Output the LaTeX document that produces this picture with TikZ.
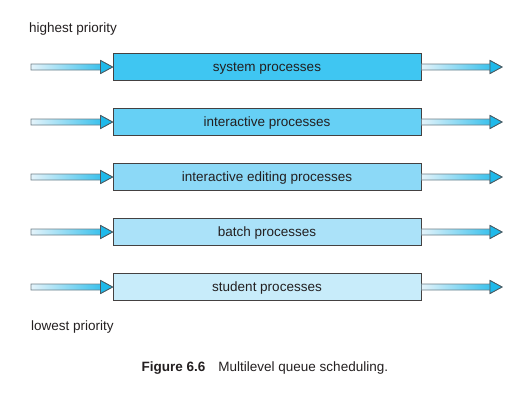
\documentclass[tikz,border=0pt]{standalone}
\usepackage{fontspec}
\setmainfont{Liberation Sans}
\usetikzlibrary{calc}
\definecolor{txt}{HTML}{231F20}
\definecolor{qa}{HTML}{3FC6F2}
\definecolor{qb}{HTML}{66D0F5}
\definecolor{qc}{HTML}{8CD9F7}
\definecolor{qd}{HTML}{ABE2F9}
\definecolor{qe}{HTML}{C8ECFA}
\definecolor{shaftL}{HTML}{E4F3FA}
\definecolor{shaftR}{HTML}{1FB9EA}
\definecolor{arrowedge}{HTML}{6E7F88}
\newcommand{\fatarrow}[2]{%
  \path[shade, left color=shaftL, right color=shaftR, draw=arrowedge, line width=0.8pt, line join=miter]
    ($(#1)+(0,-3)$) -- ($(#2)+(-12,-3)$) -- ($(#2)+(-12,-6.5)$) -- (#2)
    -- ($(#2)+(-12,6.5)$) -- ($(#2)+(-12,3)$) -- ($(#1)+(0,3)$) -- cycle;
  \path[fill=shaftR, draw=arrowedge!70!black, line width=0.8pt, line join=miter]
    ($(#2)+(-12,-6.5)$) -- (#2) -- ($(#2)+(-12,6.5)$) -- cycle;
}
\tikzset{
  queuebox/.style={draw=txt!85, line width=0.9pt, minimum width=308pt, minimum height=27pt,
    inner sep=0pt, text height=10pt, text depth=2pt, text=txt, font=\fontsize{13.5}{15}\selectfont},
  label/.style={text=txt, font=\fontsize{13.5}{15}\selectfont, inner sep=0pt}
}
\begin{document}
\begin{tikzpicture}[x=1pt, y=-1pt]
\useasboundingbox (0,0) rectangle (532,405);
\node[label, anchor=west] (hi) at (29,29) {highest priority};
\node[label, anchor=west] (lo) at (31,327) {lowest priority};
\foreach \i/\t/\c in {0/system processes/qa, 1/interactive processes/qb, 2/interactive editing processes/qc, 3/batch processes/qd, 4/student processes/qe}{
  \node[queuebox, fill=\c] (q\i) at (267, 67+55*\i) {\t};
  \coordinate (in\i) at (31, 67+55*\i);
  \coordinate (out\i) at (502, 67+55*\i);
  \fatarrow{in\i}{q\i.west}
  \fatarrow{q\i.east}{out\i}
}
\node[label, anchor=west] (cap) at (141.5,368) {\textbf{Figure 6.6}\hspace{13pt}Multilevel queue scheduling.};
\end{tikzpicture}
\end{document}
